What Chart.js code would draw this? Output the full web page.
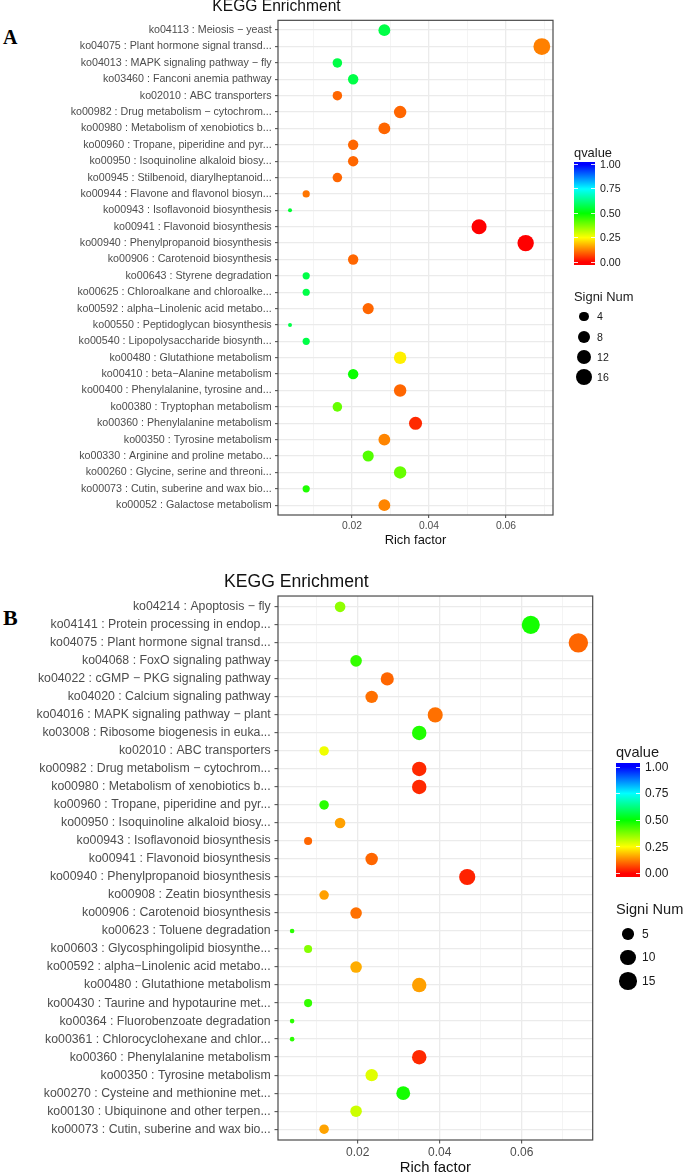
<!DOCTYPE html>
<html>
<head>
<meta charset="utf-8">
<script src="https://cdn.jsdelivr.net/npm/chart.js@4.4.1/dist/chart.umd.min.js"></script>
<style>
  body { margin: 0; background: #fff; font-family: "Liberation Sans", Arial, sans-serif; }
  .panel { position: absolute; left: 0; width: 685px; overflow: hidden; }
  #panelA { top: 0; height: 560px; }
  #panelB { top: 560px; height: 615px; }
  canvas { position: absolute; left: 0; }
  .letter { position: absolute; left: 3px; font-family: "Liberation Serif", "Times New Roman", serif; font-weight: bold; color: #000; line-height: 1; }
  .lg { position: absolute; white-space: nowrap; line-height: 1.2; color: #1a1a1a; }
  .dot { position: absolute; border-radius: 50%; background: #000; }
</style>
</head>
<body>
<div class="panel" id="panelA">
  <div class="letter" style="top:27px;font-size:20px">A</div>
  <canvas id="chartA" width="685" height="570" style="top:-10px"></canvas>
</div>
<div class="panel" id="panelB">
  <div class="letter" style="top:47px;font-size:22px">B</div>
  <canvas id="chartB" width="685" height="615" style="top:0"></canvas>
</div>
<script>
// ---- panel A data ----
const pathwaysA = [
  "ko04113 : Meiosis \u2212 yeast",
  "ko04075 : Plant hormone signal transd...",
  "ko04013 : MAPK signaling pathway \u2212 fly",
  "ko03460 : Fanconi anemia pathway",
  "ko02010 : ABC transporters",
  "ko00982 : Drug metabolism \u2212 cytochrom...",
  "ko00980 : Metabolism of xenobiotics b...",
  "ko00960 : Tropane, piperidine and pyr...",
  "ko00950 : Isoquinoline alkaloid biosy...",
  "ko00945 : Stilbenoid, diarylheptanoid...",
  "ko00944 : Flavone and flavonol biosyn...",
  "ko00943 : Isoflavonoid biosynthesis",
  "ko00941 : Flavonoid biosynthesis",
  "ko00940 : Phenylpropanoid biosynthesis",
  "ko00906 : Carotenoid biosynthesis",
  "ko00643 : Styrene degradation",
  "ko00625 : Chloroalkane and chloroalke...",
  "ko00592 : alpha\u2212Linolenic acid metabo...",
  "ko00550 : Peptidoglycan biosynthesis",
  "ko00540 : Lipopolysaccharide biosynth...",
  "ko00480 : Glutathione metabolism",
  "ko00410 : beta\u2212Alanine metabolism",
  "ko00400 : Phenylalanine, tyrosine and...",
  "ko00380 : Tryptophan metabolism",
  "ko00360 : Phenylalanine metabolism",
  "ko00350 : Tyrosine metabolism",
  "ko00330 : Arginine and proline metabo...",
  "ko00260 : Glycine, serine and threoni...",
  "ko00073 : Cutin, suberine and wax bio...",
  "ko00052 : Galactose metabolism"
];
const richA = [0.0284, 0.0693, 0.0162, 0.0203, 0.0162, 0.0325, 0.0284, 0.0203, 0.0203, 0.0162,
               0.0081, 0.0039, 0.0530, 0.0651, 0.0203, 0.0081, 0.0081, 0.0242, 0.0039, 0.0081,
               0.0325, 0.0203, 0.0325, 0.0162, 0.0365, 0.0284, 0.0242, 0.0325, 0.0081, 0.0284];
const countA = [7, 17, 4, 5, 4, 8, 7, 5, 5, 4,
                2, 1, 13, 16, 5, 2, 2, 6, 1, 2,
                8, 5, 8, 4, 9, 7, 6, 8, 2, 7];
const qvalA = [0.57, 0.125, 0.57, 0.57, 0.10, 0.10, 0.10, 0.10, 0.10, 0.10,
               0.115, 0.55, 0.0, 0.0, 0.10, 0.57, 0.57, 0.10, 0.57, 0.57,
               0.235, 0.49, 0.10, 0.40, 0.04, 0.13, 0.42, 0.40, 0.47, 0.13];
const sizeBreaksA = [4, 8, 12, 16];

// ---- panel B data ----
const pathwaysB = [
  "ko04214 : Apoptosis \u2212 fly",
  "ko04141 : Protein processing in endop...",
  "ko04075 : Plant hormone signal transd...",
  "ko04068 : FoxO signaling pathway",
  "ko04022 : cGMP \u2212 PKG signaling pathway",
  "ko04020 : Calcium signaling pathway",
  "ko04016 : MAPK signaling pathway \u2212 plant",
  "ko03008 : Ribosome biogenesis in euka...",
  "ko02010 : ABC transporters",
  "ko00982 : Drug metabolism \u2212 cytochrom...",
  "ko00980 : Metabolism of xenobiotics b...",
  "ko00960 : Tropane, piperidine and pyr...",
  "ko00950 : Isoquinoline alkaloid biosy...",
  "ko00943 : Isoflavonoid biosynthesis",
  "ko00941 : Flavonoid biosynthesis",
  "ko00940 : Phenylpropanoid biosynthesis",
  "ko00908 : Zeatin biosynthesis",
  "ko00906 : Carotenoid biosynthesis",
  "ko00623 : Toluene degradation",
  "ko00603 : Glycosphingolipid biosynthe...",
  "ko00592 : alpha\u2212Linolenic acid metabo...",
  "ko00480 : Glutathione metabolism",
  "ko00430 : Taurine and hypotaurine met...",
  "ko00364 : Fluorobenzoate degradation",
  "ko00361 : Chlorocyclohexane and chlor...",
  "ko00360 : Phenylalanine metabolism",
  "ko00350 : Tyrosine metabolism",
  "ko00270 : Cysteine and methionine met...",
  "ko00130 : Ubiquinone and other terpen...",
  "ko00073 : Cutin, suberine and wax bio..."
];
const richB = [0.0157, 0.0622, 0.0738, 0.0196, 0.0272, 0.0234, 0.0389, 0.0350, 0.0118, 0.0350,
               0.0350, 0.0118, 0.0157, 0.0079, 0.0234, 0.0467, 0.0118, 0.0196, 0.0040, 0.0079,
               0.0196, 0.0350, 0.0079, 0.0040, 0.0040, 0.0350, 0.0234, 0.0311, 0.0196, 0.0118];
const countB = [4, 16, 19, 5, 7, 6, 10, 9, 3, 9,
                9, 3, 4, 2, 6, 12, 3, 5, 1, 2,
                5, 9, 2, 1, 1, 9, 6, 8, 5, 3];
const qvalB = [0.36, 0.48, 0.10, 0.45, 0.10, 0.11, 0.11, 0.47, 0.265, 0.04,
               0.04, 0.46, 0.157, 0.10, 0.10, 0.033, 0.157, 0.11, 0.46, 0.37,
               0.17, 0.157, 0.45, 0.46, 0.46, 0.04, 0.28, 0.48, 0.30, 0.16];
const sizeBreaksB = [5, 10, 15];

const qTicks = [0, 0.25, 0.5, 0.75, 1];
const xMajor = [0.02, 0.04, 0.06];
const xAllTicks = [0.01, 0.02, 0.03, 0.04, 0.05, 0.06, 0.07];

// rainbow gradient red -> yellow -> green -> cyan -> blue
const qStops = [[255, 0, 0], [255, 255, 0], [0, 255, 0], [0, 255, 255], [0, 0, 255]];
function qColor(q) {
  const t = Math.min(Math.max(q, 0), 1) * 4;
  const i = Math.min(Math.floor(t), 3);
  const f = t - i;
  const a = qStops[i], b = qStops[i + 1];
  const c = a.map((v, k) => Math.round(v + (b[k] - v) * f));
  return `rgb(${c[0]},${c[1]},${c[2]})`;
}

// size scale like ggplot's area scale: radius grows with sqrt of the rescaled count
function sizeScale(counts, rMin, rMax) {
  const lo = Math.min(...counts), hi = Math.max(...counts);
  return c => rMin + (rMax - rMin) * Math.sqrt(Math.max(c - lo, 0) / (hi - lo));
}

Chart.defaults.font.family = '"Liberation Sans", Arial, sans-serif';

const panelBorder = {
  id: 'panelBorder',
  afterDatasetsDraw(chart) {
    const { ctx, chartArea: a } = chart;
    ctx.save();
    ctx.strokeStyle = '#4a4a4a';
    ctx.lineWidth = 1.2;
    ctx.strokeRect(a.left, a.top, a.right - a.left, a.bottom - a.top);
    ctx.restore();
  }
};

const isMajor = v => xMajor.some(m => Math.abs(m - v) < 1e-6);

function makeChart(id, cats, rich, counts, qv, s) {
  const points = cats.map((c, i) => ({ x: rich[i], y: i, r: s.radius(counts[i]) }));
  return new Chart(document.getElementById(id), {
    type: 'bubble',
    data: {
      datasets: [{
        data: points,
        backgroundColor: ctx => qColor(qv[ctx.dataIndex]),
        borderWidth: 0,
        hoverRadius: 0
      }]
    },
    options: {
      responsive: false,
      animation: false,
      events: [],
      layout: { padding: { left: 0, right: s.padRight, top: 0, bottom: 0 } },
      plugins: {
        legend: { display: false },
        tooltip: { enabled: false },
        title: {
          display: true,
          text: 'KEGG Enrichment',
          color: '#111',
          font: { size: s.titleSize, weight: 'normal', lineHeight: 1.2 },
          padding: s.titlePad
        }
      },
      scales: {
        x: {
          type: 'linear',
          min: s.xMin,
          max: s.xMax,
          afterBuildTicks: axis => { axis.ticks = xAllTicks.map(v => ({ value: v })); },
          afterFit: axis => { axis.height = s.xAxisH; },
          ticks: {
            autoSkip: false,
            maxRotation: 0,
            color: '#4d4d4d',
            padding: s.xTickPad,
            font: { size: s.xTickSize },
            callback: v => isMajor(v) ? v.toFixed(2) : ''
          },
          grid: {
            color: ctx => isMajor(ctx.tick.value) ? '#ebebeb' : '#f1f1f1',
            lineWidth: ctx => isMajor(ctx.tick.value) ? 1.3 : 0.8,
            tickColor: ctx => isMajor(ctx.tick.value) ? '#444' : 'rgba(0,0,0,0)',
            tickLength: s.tickLen,
            tickWidth: 1
          },
          border: { display: false },
          title: {
            display: true,
            text: 'Rich factor',
            color: '#111',
            font: { size: s.xTitleSize, lineHeight: s.xTitleLH },
            padding: { top: 0, bottom: s.xTitlePad }
          }
        },
        y: {
          type: 'linear',
          reverse: true,
          min: -0.6,
          max: cats.length - 0.4,
          afterBuildTicks: axis => { axis.ticks = cats.map((c, i) => ({ value: i })); },
          afterFit: axis => { axis.width = 278; },
          ticks: {
            autoSkip: false,
            color: '#4d4d4d',
            padding: s.yTickPad,
            font: { size: s.yTickSize },
            callback: v => cats[v]
          },
          grid: {
            color: '#ebebeb',
            lineWidth: 1.3,
            tickColor: '#444',
            tickLength: s.tickLen,
            tickWidth: 1
          },
          border: { display: false }
        }
      }
    },
    plugins: [panelBorder]
  });
}

function addText(parent, txt, left, cy, size) {
  const d = document.createElement('div');
  d.className = 'lg';
  d.textContent = txt;
  d.style.left = left + 'px';
  d.style.top = (cy - size * 0.6) + 'px';
  d.style.fontSize = size + 'px';
  parent.appendChild(d);
}

function makeLegend(panelId, breaks, radius, L) {
  const p = document.getElementById(panelId);
  addText(p, 'qvalue', L.left, L.titleY, L.titleSize);
  const yOf = q => L.q0Y - q * (L.q0Y - L.q1Y);
  const pct = q => ((yOf(q) - L.barTop) / L.barH * 100).toFixed(2) + '%';
  const bar = document.createElement('div');
  bar.style.cssText = `position:absolute;left:${L.left}px;top:${L.barTop}px;width:${L.barW}px;height:${L.barH}px;`;
  bar.style.background = 'linear-gradient(to bottom,' +
    qTicks.slice().reverse().map(q => `${qColor(q)} ${pct(q)}`).join(',') + ')';
  p.appendChild(bar);
  qTicks.forEach(q => {
    const y = yOf(q);
    [L.left, L.left + L.barW - 4].forEach(x => {
      const t = document.createElement('div');
      t.style.cssText = `position:absolute;left:${x}px;top:${y - 0.5}px;width:4px;height:1px;background:rgba(255,255,255,0.85);`;
      p.appendChild(t);
    });
    addText(p, q.toFixed(2), L.labelX, y, L.labelSize);
  });
  addText(p, 'Signi Num', L.left, L.sizeTitleY, L.titleSize);
  breaks.forEach((b, i) => {
    const cy = L.dotY0 + i * L.dotStep;
    const r = radius(b);
    const d = document.createElement('div');
    d.className = 'dot';
    d.style.cssText += `left:${L.dotX - r}px;top:${cy - r}px;width:${2 * r}px;height:${2 * r}px;`;
    p.appendChild(d);
    addText(p, String(b), L.sizeLabelX, cy, L.labelSize);
  });
}

const styleA = {
  radius: sizeScale(countA, 2, 8.4), padRight: 132, xMin: 0.00078, xMax: 0.0722,
  titleSize: 15.6, titlePad: { top: 7.3, bottom: 4.3 },
  xAxisH: 45, xTickPad: 2, xTickSize: 10.3, tickLen: 3,
  xTitleSize: 12.9, xTitleLH: 1.2, xTitlePad: 12.3,
  yTickPad: 3.3, yTickSize: 10.7
};
const styleB = {
  radius: sizeScale(countB, 2.3, 9.7), padRight: 92.3, xMin: 0.00056, xMax: 0.0773,
  titleSize: 17.6, titlePad: { top: 11.2, bottom: 3.7 },
  xAxisH: 35, xTickPad: 2.4, xTickSize: 12, tickLen: 3.5,
  xTitleSize: 14.9, xTitleLH: 1, xTitlePad: 0,
  yTickPad: 3.8, yTickSize: 12.3
};

makeChart('chartA', pathwaysA, richA, countA, qvalA, styleA);
makeChart('chartB', pathwaysB, richB, countB, qvalB, styleB);

makeLegend('panelA', sizeBreaksA, styleA.radius, {
  left: 574, titleY: 152.7, titleSize: 12.9, labelSize: 10.6,
  barTop: 161.7, barH: 103.3, barW: 21, q0Y: 262, q1Y: 164.3, labelX: 600,
  sizeTitleY: 296.7, dotX: 584, dotY0: 316.7, dotStep: 20.2, sizeLabelX: 597
});
makeLegend('panelB', sizeBreaksB, styleB.radius, {
  left: 616, titleY: 192.7, titleSize: 14.6, labelSize: 12,
  barTop: 203.3, barH: 113.4, barW: 23.5, q0Y: 313.3, q1Y: 207, labelX: 645,
  sizeTitleY: 350, dotX: 628, dotY0: 374, dotStep: 23.5, sizeLabelX: 642
});
</script>
</body>
</html>
